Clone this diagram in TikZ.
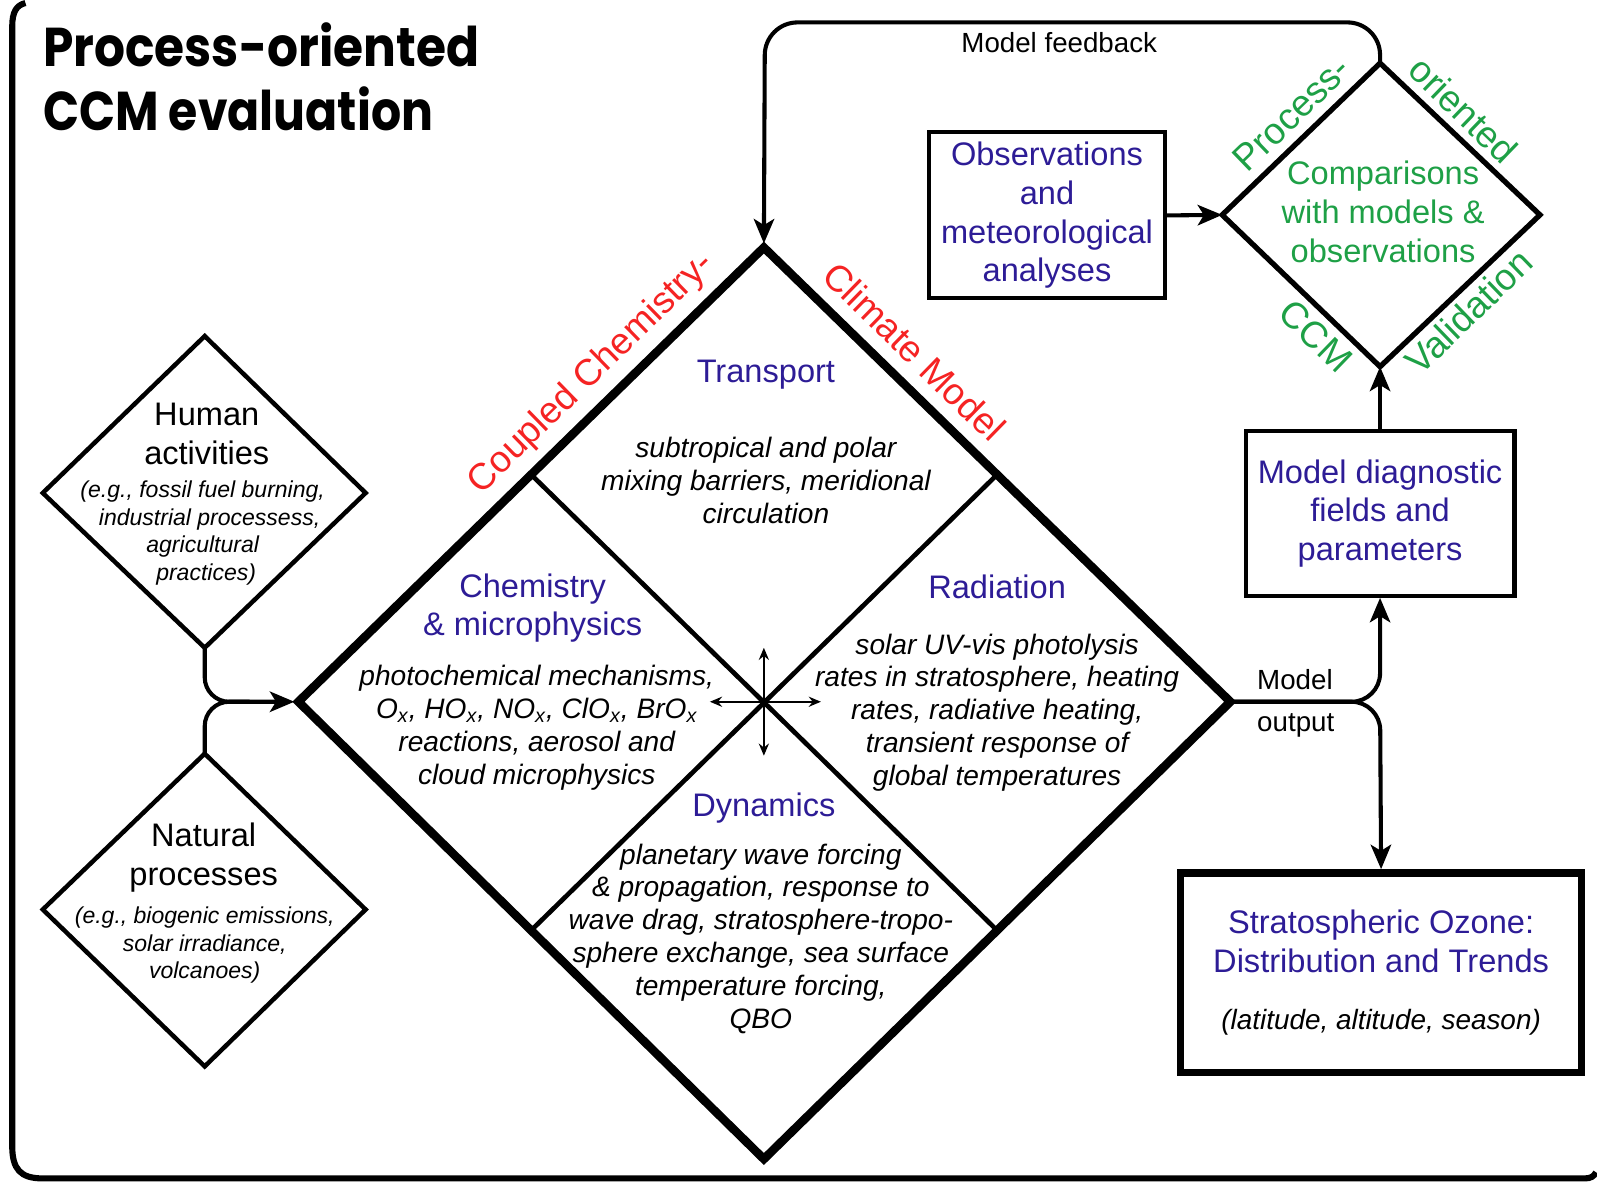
\documentclass[tikz,border=0pt]{standalone}
\usepackage{fontspec}
\setmainfont{Liberation Sans}
\newfontfamily\titlefont{Poppins}
\usetikzlibrary{arrows.meta}
\definecolor{hblue}{RGB}{45,28,150}
\definecolor{lred}{RGB}{245,35,35}
\definecolor{lgreen}{RGB}{30,160,70}
\begin{document}
\begin{tikzpicture}[x=0.5pt,y=-0.5pt,
  head/.style={text=hblue, font=\fontsize{16}{19}\selectfont, align=center, inner sep=0pt},
  body/.style={font=\fontsize{13.8}{16.1}\selectfont\itshape, align=center, inner sep=0pt},
  small/.style={font=\fontsize{11.3}{13.5}\selectfont\itshape, align=center, inner sep=0pt},
  src/.style={font=\fontsize{16}{19}\selectfont, align=center, inner sep=0pt},
  edgelbl/.style={font=\fontsize{18.2}{21}\selectfont, inner sep=0pt},
  plain/.style={font=\fontsize{13.6}{16}\selectfont, inner sep=0pt},
  conn/.style={line width=2pt, -{Stealth[length=12pt,width=10pt,inset=3pt]}},
  thinarrow/.style={line width=0.9pt, -{Stealth[length=6pt,width=5pt,inset=2pt]}},
  box/.style={draw, line width=2pt, inner sep=0pt, align=center, text=hblue, font=\fontsize{16}{19}\selectfont},
]
\useasboundingbox (0,0) rectangle (1568,1161);

% frame
\draw[line width=3pt] (25,3) .. controls (16,5) and (12,12) .. (12,26) -- (12,1125)
  .. controls (12,1148) and (20,1157) .. (42,1157) -- (1556,1157)
  .. controls (1562,1157) and (1565,1155) .. (1567,1151);

% title
\node[anchor=base west, inner sep=0pt] (title1) at (42,65)
  {\resizebox{214pt}{21.5pt}{\titlefont\bfseries Process-oriented}};
\node[anchor=base west, inner sep=0pt] (title2) at (42,128)
  {\resizebox{191.5pt}{21.5pt}{\titlefont\bfseries CCM evaluation}};

% main diamond
\coordinate (T) at (750,243);
\coordinate (L) at (293,689);
\coordinate (R) at (1208,689);
\coordinate (B) at (750,1138);
\coordinate (C) at (750,689);
\coordinate (TL) at (521.5,466);
\coordinate (TR) at (979,466);
\coordinate (BL) at (521.5,913.5);
\coordinate (BR) at (979,913.5);
\draw[line width=2.3pt] (TL) -- (BR);
\draw[line width=2.3pt] (TR) -- (BL);
\draw[line width=4.2pt, line join=miter] (T) -- (R) -- (B) -- (L) -- cycle;

% cross arrows
\coordinate (cu) at (750,636);
\coordinate (cd) at (750,742);
\coordinate (cl) at (697,689);
\coordinate (cr) at (806,689);
\draw[thinarrow] (C) -- (cu);
\draw[thinarrow] (C) -- (cd);
\draw[thinarrow] (C) -- (cl);
\draw[thinarrow] (C) -- (cr);

% red labels
\node[edgelbl, text=lred, rotate=44.3] (lblccm1) at (581,367) {Coupled Chemistry-};
\node[edgelbl, text=lred, rotate=-44.3] (lblccm2) at (898,345) {Climate Model};

% transport
\node[head] (trh) at (752,368) {Transport};
\node[body] (trb) at (752,472) {subtropical and polar\\mixing barriers, meridional\\circulation};
% chemistry
\node[head] (chh) at (523,597) {Chemistry\\\& microphysics};
\node[body] (chb) at (527,714.5) {photochemical mechanisms,\\O\textsubscript{x}, HO\textsubscript{x}, NO\textsubscript{x}, ClO\textsubscript{x}, BrO\textsubscript{x}\\reactions, aerosol and\\cloud microphysics};
% radiation
\node[head] (rah) at (979,576) {Radiation};
\node[body] (rab) at (979,699.5) {solar UV-vis photolysis\\rates in stratosphere, heating\\rates, radiative heating,\\transient response of\\global temperatures};
% dynamics
\node[head] (dyh) at (750,793) {Dynamics};
\node[body] (dyb) at (747,921.5) {planetary wave forcing\\\& propagation, response to\\wave drag, stratosphere-tropo-\\sphere exchange, sea surface\\temperature forcing,\\QBO};

% human activities diamond
\coordinate (Ht) at (201,330);
\coordinate (Hl) at (42,484);
\coordinate (Hr) at (359,484);
\coordinate (Hb) at (201,636);
\draw[line width=2.2pt, line join=miter] (Ht) -- (Hr) -- (Hb) -- (Hl) -- cycle;
\node[src] (hh) at (203,426) {Human\\activities};
\node[small] (hb) at (199,523.5) {(e.g., fossil fuel burning,\\\hspace*{0.6em}industrial processess,\\agricultural\\\hspace*{0.3em}practices)};

% natural processes diamond
\coordinate (Nt) at (201,740);
\coordinate (Nl) at (42,893);
\coordinate (Nr) at (359,893);
\coordinate (Nb) at (201,1047);
\draw[line width=2.2pt, line join=miter] (Nt) -- (Nr) -- (Nb) -- (Nl) -- cycle;
\node[src] (nh) at (200,842) {Natural\\processes};
\node[small] (nb) at (201,928) {(e.g., biogenic emissions,\\solar irradiance,\\volcanoes)};

% inputs to model
\draw[conn, rounded corners=12pt, shorten >=2pt] (Hb) -- (201,689) -- (L);
\draw[line width=2pt, rounded corners=12pt] (Nt) -- (201,689) -- (245,689);

% process-oriented diamond
\coordinate (PT) at (1355,62);
\coordinate (PL) at (1200,211);
\coordinate (PR) at (1512,211);
\coordinate (PB) at (1355,360);
\draw[line width=2.6pt, line join=miter] (PT) -- (PR) -- (PB) -- (PL) -- cycle;
\node[src, text=lgreen] (cmp) at (1358,208) {Comparisons\\with models \&\\observations};
\node[edgelbl, text=lgreen, rotate=44] (pl1) at (1268,112) {Process-};
\node[edgelbl, text=lgreen, rotate=-44] (pl2) at (1437,108) {oriented};
\node[edgelbl, text=lgreen, rotate=-44] (pl3) at (1292,330) {CCM};
\node[edgelbl, text=lgreen, rotate=44] (pl4) at (1442,306) {Validation};

% boxes
\node[box, minimum width=116pt, minimum height=81.5pt] (obs) at (1028,211.5)
  {Observations\\and\\meteorological\\analyses};
\node[box, minimum width=132pt, minimum height=81pt] (diag) at (1355,504)
  {Model diagnostic\\fields and\\parameters};
\node[box, line width=3.6pt, minimum width=197pt, minimum height=98pt] (ozone) at (1356,955)
  {Stratospheric Ozone:\\Distribution and Trends\\[9pt]{\color{black}\fontsize{13.7}{16}\selectfont\itshape (latitude, altitude, season)}};

% connectors on the right
\draw[conn] (obs.east) -- (PL);
\draw[conn] (diag.north) -- (PB);
\draw[conn, rounded corners=14pt] (R) -- (1355,689) -- (diag.south);
\draw[conn, rounded corners=14pt] (R) -- (1355,689) -- (ozone.north);
\node[plain, anchor=west] (mo1) at (1234,667) {Model};
\node[plain, anchor=west] (mo2) at (1234,712) {output};

% feedback
\draw[conn, rounded corners=16pt, shorten >=2pt] (PT) -- (1355,22) -- (751,22) -- (T);
\node[plain] (fb) at (1040,42) {Model feedback};
\end{tikzpicture}
\end{document}
